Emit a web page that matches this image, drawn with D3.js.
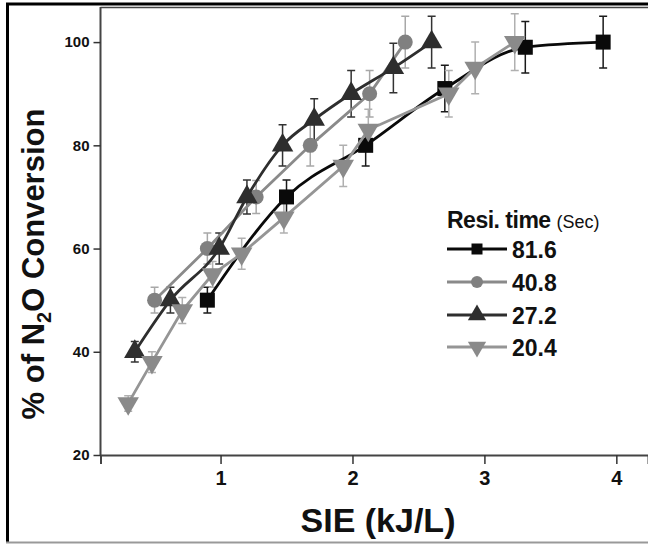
<!DOCTYPE html>
<html>
<head>
<meta charset="utf-8">
<script src="https://cdn.jsdelivr.net/npm/d3@7"></script>
<style>
  body { margin: 0; background: #fff; }
  svg { display: block; font-family: "Liberation Sans", Arial, sans-serif; }
</style>
</head>
<body>
<svg></svg>
<script>
// residence time series, SIE (kJ/L) vs % N2O conversion, with error half-widths
const names = ['81.6', '40.8', '27.2', '20.4'];

const sie816 = [0.9, 1.5, 2.1, 2.7, 3.31, 3.9];
const conv816 = [50, 70, 80, 91, 99, 100];
const err816 = [2.5, 3.3, 4, 4.5, 5, 5];

const sie408 = [0.5, 0.9, 1.27, 1.68, 2.13, 2.4];
const conv408 = [50, 60, 70, 80, 90, 100];
const err408 = [2.5, 3, 3.2, 4, 4.5, 5];

const sie272 = [0.35, 0.62, 0.99, 1.2, 1.47, 1.71, 1.99, 2.31, 2.6];
const conv272 = [40, 50, 60, 70, 80, 85, 90, 95, 100];
const err272 = [2, 2.5, 3, 3.3, 4, 4, 4.5, 4.8, 5];

const sie204 = [0.3, 0.48, 0.71, 0.94, 1.16, 1.48, 1.93, 2.12, 2.73, 2.93, 3.23];
const conv204 = [30, 38, 48, 55, 59, 66, 76, 83, 90, 95, 100];
const err204 = [1.5, 2, 2.5, 2.5, 3, 3, 4, 4, 4.5, 5, 5.5];

const xTicks = [1, 2, 3, 4];
const yTicks = [20, 40, 60, 80, 100];

const svg = d3.select('svg')
	.attr('width', 648)
	.attr('height', 545);

const toPoints = (xs, ys, es) => xs.map((x, i) => ({ x: x, y: ys[i], e: es[i] }));

const series = [
	{ name: names[0], pts: toPoints(sie816, conv816, err816), color: '#0a0a0a', line: '#0a0a0a', err: '#1a1a1a', shape: 'square', curve: d3.curveMonotoneX },
	{ name: names[1], pts: toPoints(sie408, conv408, err408), color: '#808080', line: '#8a8a8a', err: '#a8a8a8', shape: 'circle', curve: d3.curveLinear },
	{ name: names[2], pts: toPoints(sie272, conv272, err272), color: '#2e2e2e', line: '#2e2e2e', err: '#333', shape: 'up', curve: d3.curveMonotoneX },
	{ name: names[3], pts: toPoints(sie204, conv204, err204), color: '#8a8a8a', line: '#959595', err: '#b0b0b0', shape: 'down', curve: d3.curveLinear }
];

const xScale = d3.scaleLinear().domain([0.09, 4.24]).range([100.5, 648]);
const yScale = d3.scaleLinear().domain([20, 106.8]).range([455, 7]);

// outer frame of the picture
svg.append('line').attr('x1', 6).attr('x2', 648).attr('y1', 4).attr('y2', 4)
	.attr('stroke', '#000').attr('stroke-width', 3);
svg.append('line').attr('x1', 7.5).attr('x2', 7.5).attr('y1', 3).attr('y2', 543)
	.attr('stroke', '#000').attr('stroke-width', 3);
svg.append('line').attr('x1', 6).attr('x2', 648).attr('y1', 542.5).attr('y2', 542.5)
	.attr('stroke', '#999').attr('stroke-width', 2);

// plot box top
svg.append('line').attr('x1', 100.5).attr('x2', 648).attr('y1', 7.5).attr('y2', 7.5)
	.attr('stroke', '#444').attr('stroke-width', 1.5);

const xAxis = d3.axisBottom(xScale).tickValues(xTicks).tickFormat(d3.format('d'))
	.tickSizeOuter(0).tickSize(9).tickPadding(7);
const yAxis = d3.axisLeft(yScale).tickValues(yTicks).tickFormat(d3.format('d'))
	.tickSizeOuter(0).tickSize(7).tickPadding(4);

const xAxisG = svg.append('g').attr('transform', 'translate(0,455)').call(xAxis);
xAxisG.select('.domain').attr('stroke', '#444').attr('stroke-width', 2);
xAxisG.selectAll('.tick line').attr('stroke', '#333').attr('stroke-width', 1.5);
xAxisG.selectAll('.tick text').attr('font-size', 20).attr('font-weight', 'bold')
	.attr('font-family', '"Liberation Sans", Arial, sans-serif').attr('fill', '#111');

const yAxisG = svg.append('g').attr('transform', 'translate(100.5,0)').call(yAxis);
yAxisG.select('.domain').attr('stroke', '#444').attr('stroke-width', 2)
	.attr('d', 'M0,7V455');
yAxisG.selectAll('.tick line').attr('stroke', '#333').attr('stroke-width', 1.5);
yAxisG.selectAll('.tick text').attr('font-size', 15).attr('font-weight', 'bold')
	.attr('font-family', '"Liberation Sans", Arial, sans-serif').attr('fill', '#111');

// axis titles
svg.append('text')
	.attr('x', 378).attr('y', 532)
	.attr('text-anchor', 'middle')
	.attr('font-size', 34).attr('font-weight', 'bold').attr('fill', '#111')
	.text('SIE (kJ/L)');

const yTitle = svg.append('text')
	.attr('transform', 'translate(44,264) rotate(-90)')
	.attr('text-anchor', 'middle')
	.attr('font-size', 31).attr('font-weight', 'bold').attr('fill', '#111');
yTitle.append('tspan').text('% of N');
yTitle.append('tspan').attr('font-size', 20).attr('dy', 7).text('2');
yTitle.append('tspan').attr('dy', -7).text('O Conversion');

const symbolPath = (shape, s) => {
	if (shape === 'square') return d3.symbol(d3.symbolSquare, s * s)();
	if (shape === 'circle') return d3.symbol(d3.symbolCircle, Math.PI * s * s / 4)();
	return d3.symbol(d3.symbolTriangle, s * s * 0.5)();
};

const g = svg.append('g');

// error bars
series.forEach(sr => {
	const eb = g.append('g').attr('stroke', sr.err).attr('stroke-width', 1.5).attr('fill', 'none');
	sr.pts.forEach(p => {
		const cx = xScale(p.x), y0 = yScale(p.y - p.e), y1 = yScale(p.y + p.e);
		eb.append('path').attr('d', `M${cx},${y0}V${y1}M${cx - 4},${y0}H${cx + 4}M${cx - 4},${y1}H${cx + 4}`);
	});
});

// lines and markers
series.forEach(sr => {
	const lineGenerator = d3.line()
		.x(d => xScale(d.x))
		.y(d => yScale(d.y))
		.curve(sr.curve);
	g.append('path')
		.attr('d', lineGenerator(sr.pts))
		.attr('fill', 'none')
		.attr('stroke', sr.line)
		.attr('stroke-width', 2.8);

	const size = sr.shape === 'square' ? 15 : sr.shape === 'circle' ? 15 : 20;
	g.selectAll(null).data(sr.pts).enter().append('path')
		.attr('d', symbolPath(sr.shape, size))
		.attr('transform', d => `translate(${xScale(d.x)},${yScale(d.y)})` + (sr.shape === 'down' ? ' rotate(180)' : ''))
		.attr('fill', sr.color);
});

// legend
const legend = svg.append('g').attr('transform', 'translate(447,0)');
const lt = legend.append('text').attr('x', 0).attr('y', 228).attr('fill', '#111');
lt.append('tspan').attr('font-size', 23).attr('font-weight', 'bold').attr('letter-spacing', -0.5).text('Resi. time ');
lt.append('tspan').attr('font-size', 18).text('(Sec)');

const rowY = [249, 282, 315, 347];
series.forEach((sr, i) => {
	const row = legend.append('g').attr('transform', `translate(0,${rowY[i]})`);
	row.append('line').attr('x1', 0).attr('x2', 60)
		.attr('stroke', sr.line).attr('stroke-width', 2.8);
	const size = sr.shape === 'square' ? 11 : sr.shape === 'circle' ? 12 : 17;
	row.append('path')
		.attr('d', symbolPath(sr.shape, size))
		.attr('transform', 'translate(30,0)' + (sr.shape === 'down' ? ' rotate(180)' : ''))
		.attr('fill', sr.color);
	row.append('text').attr('x', 65).attr('y', 8.5)
		.attr('font-size', 23).attr('font-weight', 'bold').attr('fill', '#111')
		.text(sr.name);
});
</script>
</body>
</html>
